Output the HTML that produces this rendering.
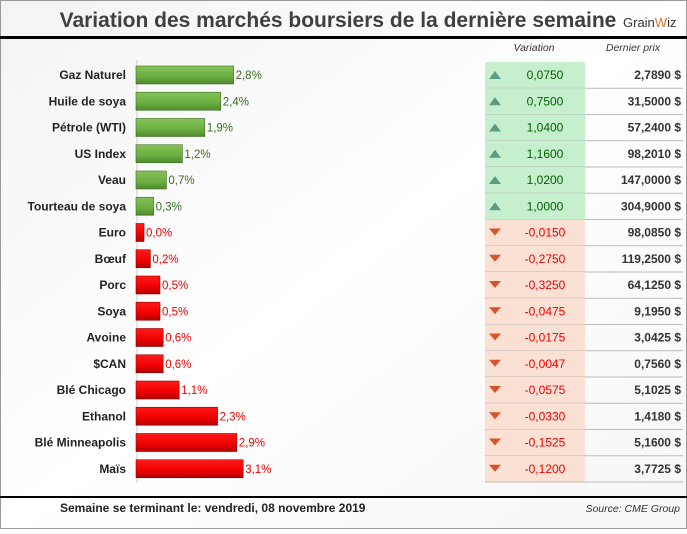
<!DOCTYPE html>
<html><head><meta charset="utf-8"><style>
body{margin:0;background:#fff;font-family:"Liberation Sans",sans-serif}
svg text{font-family:"Liberation Sans",sans-serif}
</style></head><body>
<svg id="c" width="687" height="529" xmlns="http://www.w3.org/2000/svg">
<defs>
<linearGradient id="bg" x1="0" y1="0" x2="1" y2="1"><stop offset="0" stop-color="#f3f3f3"/><stop offset="0.5" stop-color="#ffffff"/><stop offset="1" stop-color="#f6f6f6"/></linearGradient>
<linearGradient id="gg" x1="0" y1="0" x2="0" y2="1"><stop offset="0" stop-color="#86c35a"/><stop offset="0.6" stop-color="#6aae40"/><stop offset="1" stop-color="#4f8a2e"/></linearGradient>
<linearGradient id="rg" x1="0" y1="0" x2="0" y2="1"><stop offset="0" stop-color="#ff1a1a"/><stop offset="0.6" stop-color="#f00000"/><stop offset="1" stop-color="#b00000"/></linearGradient>
</defs>
<rect x="0.5" y="0.5" width="686" height="528" fill="url(#bg)" stroke="#999"/>
<text x="338" y="27" text-anchor="middle" font-size="21" font-weight="bold" fill="#404040">Variation des marchés boursiers de la dernière semaine</text>
<text x="623" y="27" font-size="13" fill="#333">Grain<tspan fill="#e07020">W</tspan>iz</text>
<rect x="0" y="36" width="687" height="3" fill="#000"/>
<text x="534" y="51" text-anchor="middle" font-size="10.5" font-style="italic" fill="#333">Variation</text>
<text x="633" y="51" text-anchor="middle" font-size="10.5" font-style="italic" fill="#333">Dernier prix</text>
<line x1="137" y1="60" x2="137" y2="483" stroke="#ccc"/>
<g id="rows"></g>
<rect x="0" y="496" width="687" height="2" fill="#000"/>
<text x="60" y="512" font-size="12" font-weight="bold" fill="#222">Semaine se terminant le:  vendredi, 08 novembre 2019</text>
<text x="680" y="512" text-anchor="end" font-size="10.5" font-style="italic" fill="#333">Source: CME Group</text>
</svg>
<script>
const categories=["Gaz Naturel","Huile de soya","Pétrole (WTI)","US Index","Veau","Tourteau de soya","Euro","Bœuf","Porc","Soya","Avoine","$CAN","Blé Chicago","Ethanol","Blé Minneapolis","Maïs"];
const pct=[2.8,2.4,1.9,1.2,0.7,0.3,0.0,0.2,0.5,0.5,0.6,0.6,1.1,2.3,2.9,3.1];
const up=[1,1,1,1,1,1,0,0,0,0,0,0,0,0,0,0];
const variation=["0,0750","0,7500","1,0400","1,1600","1,0200","1,0000","-0,0150","-0,2750","-0,3250","-0,0475","-0,0175","-0,0047","-0,0575","-0,0330","-0,1525","-0,1200"];
const prices=["2,7890 $","31,5000 $","57,2400 $","98,2010 $","147,0000 $","304,9000 $","98,0850 $","119,2500 $","64,1250 $","9,1950 $","3,0425 $","0,7560 $","5,1025 $","1,4180 $","5,1600 $","3,7725 $"];
const NS="http://www.w3.org/2000/svg",g=document.getElementById('rows');
const x=v=>136+8+v*32, y=i=>62+i*26.25;
function mk(t,a,txt){const e=document.createElementNS(NS,t);for(const k in a)e.setAttribute(k,a[k]);if(txt!=null)e.textContent=txt;g.appendChild(e);return e;}
categories.forEach((c,i)=>{
 const cy=y(i)+13, pos=up[i]===1;
 let e=mk('text',{x:126,y:cy+4,'text-anchor':'end','font-size':12,'font-weight':'bold',fill:'#222'},c);
 
 e=mk('rect',{x:136,y:cy-9,width:x(pct[i])-136,height:18,fill:pos?'url(#gg)':'url(#rg)',stroke:pos?'#3e6e22':'#900',"stroke-width":0.6});
 
 e=mk('text',{x:x(pct[i])+2,y:cy+4,'font-size':11.5,fill:pos?'#3a6b20':'#f00000'},pct[i].toFixed(1).replace('.',',')+'%');
 
 e=mk('rect',{x:485,y:y(i),width:100,height:26.25,fill:pos?'#c6efce':'#fbe0d4'});
 
 e=mk('line',{x1:485,y1:y(i)+26.25,x2:683,y2:y(i)+26.25,stroke:'#bbb'});
 
 e=mk('polygon',{points:pos?`489,${cy+4} 495,${cy-4} 501,${cy+4}`:`489,${cy-4} 501,${cy-4} 495,${cy+3}`,fill:pos?'#5c9c86':'#d9542c'});
 
 e=mk('text',{x:545,y:cy+4,'text-anchor':'middle','font-size':12,fill:pos?'#006100':'#f00000'},variation[i]);
 
 e=mk('text',{x:681,y:cy+4,'text-anchor':'end','font-size':12,'font-weight':'bold',fill:'#333'},prices[i]);
 
});
</script>
</body></html>
